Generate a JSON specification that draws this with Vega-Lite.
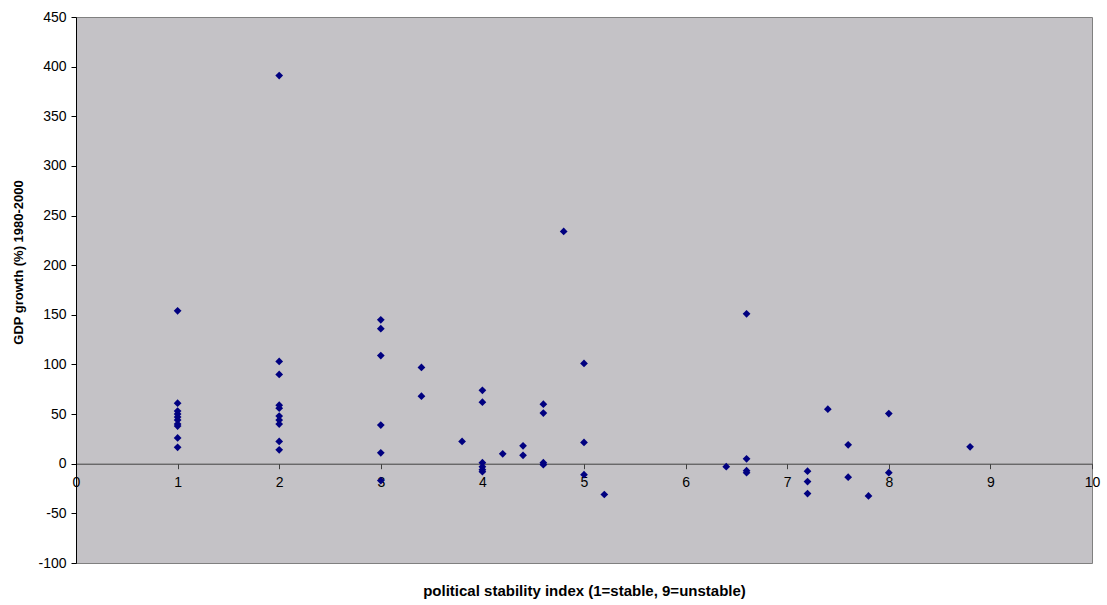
{
  "$schema": "https://vega.github.io/schema/vega-lite/v6.json",
  "width": 1016,
  "height": 546,
  "autosize": {"type": "none"},
  "padding": {"left": 76, "top": 17, "right": 15, "bottom": 42},
  "background": "#FFFFFF",
  "config": {
    "view": {"fill": "#C4C2C6", "stroke": "#808080", "strokeWidth": 1},
    "font": "Liberation Sans"
  },
  "data": {
    "values": [
      {"psi": 1, "gdp": 154}, {"psi": 1, "gdp": 61}, {"psi": 1, "gdp": 53}, {"psi": 1, "gdp": 50}, {"psi": 1, "gdp": 47}, {"psi": 1, "gdp": 44}, {"psi": 1, "gdp": 40}, {"psi": 1, "gdp": 38}, {"psi": 1, "gdp": 26}, {"psi": 1, "gdp": 16.5},
      {"psi": 2, "gdp": 391}, {"psi": 2, "gdp": 103}, {"psi": 2, "gdp": 90}, {"psi": 2, "gdp": 59}, {"psi": 2, "gdp": 56}, {"psi": 2, "gdp": 48}, {"psi": 2, "gdp": 44}, {"psi": 2, "gdp": 40}, {"psi": 2, "gdp": 22.5}, {"psi": 2, "gdp": 14},
      {"psi": 3, "gdp": 145}, {"psi": 3, "gdp": 136}, {"psi": 3, "gdp": 109}, {"psi": 3, "gdp": 39}, {"psi": 3, "gdp": 11}, {"psi": 3, "gdp": -17},
      {"psi": 3.4, "gdp": 97}, {"psi": 3.4, "gdp": 68},
      {"psi": 3.8, "gdp": 22.5},
      {"psi": 4, "gdp": 74}, {"psi": 4, "gdp": 62}, {"psi": 4, "gdp": 1}, {"psi": 4, "gdp": -3}, {"psi": 4, "gdp": -6}, {"psi": 4, "gdp": -8},
      {"psi": 4.2, "gdp": 10},
      {"psi": 4.4, "gdp": 18}, {"psi": 4.4, "gdp": 8.5},
      {"psi": 4.6, "gdp": 60}, {"psi": 4.6, "gdp": 51}, {"psi": 4.6, "gdp": 1}, {"psi": 4.6, "gdp": -1},
      {"psi": 4.8, "gdp": 234},
      {"psi": 5, "gdp": 101}, {"psi": 5, "gdp": 21.5}, {"psi": 5, "gdp": -11},
      {"psi": 5.2, "gdp": -31},
      {"psi": 6.4, "gdp": -3},
      {"psi": 6.6, "gdp": 151}, {"psi": 6.6, "gdp": 5}, {"psi": 6.6, "gdp": -7}, {"psi": 6.6, "gdp": -9},
      {"psi": 7.2, "gdp": -7.5}, {"psi": 7.2, "gdp": -18}, {"psi": 7.2, "gdp": -30},
      {"psi": 7.4, "gdp": 55},
      {"psi": 7.6, "gdp": 19}, {"psi": 7.6, "gdp": -13.5},
      {"psi": 7.8, "gdp": -32.5},
      {"psi": 8, "gdp": 50.5}, {"psi": 8, "gdp": -9},
      {"psi": 8.8, "gdp": 17}
    ]
  },
  "mark": {"type": "point", "shape": "diamond", "filled": true, "size": 60, "color": "#000080", "opacity": 1},
  "encoding": {
    "x": {
      "field": "psi", "type": "quantitative",
      "scale": {"domain": [0, 10], "nice": false, "zero": false},
      "axis": {
        "title": "political stability index (1=stable, 9=unstable)",
        "titleFont": "Liberation Sans", "titleFontSize": 15, "titleFontWeight": "bold", "titleColor": "#000000",
        "titleY": 127, "titleBaseline": "middle",
        "offset": -99.3,
        "values": [0, 1, 2, 3, 4, 5, 6, 7, 8, 9, 10],
        "grid": false,
        "domainColor": "#404040", "domainWidth": 1,
        "tickColor": "#404040", "tickSize": 5,
        "labelFont": "Liberation Sans", "labelFontSize": 14, "labelColor": "#000000",
        "labelPadding": 7, "labelFlush": false,
        "labelExpr": "toString(datum.value)"
      }
    },
    "y": {
      "field": "gdp", "type": "quantitative",
      "scale": {"domain": [-100, 450], "nice": false, "zero": false},
      "axis": {
        "title": "GDP growth (%) 1980-2000",
        "titleFont": "Liberation Sans", "titleFontSize": 13, "titleFontWeight": "bold", "titleColor": "#000000",
        "titlePadding": 12,
        "titleY": 245,
        "values": [-100, -50, 0, 50, 100, 150, 200, 250, 300, 350, 400, 450],
        "grid": false,
        "domainColor": "#000000", "domainWidth": 1,
        "tickColor": "#000000", "tickSize": 5,
        "labelFont": "Liberation Sans", "labelFontSize": 14, "labelColor": "#000000",
        "labelPadding": 5, "labelFlush": false,
        "labelExpr": "toString(datum.value)"
      }
    }
  }
}
